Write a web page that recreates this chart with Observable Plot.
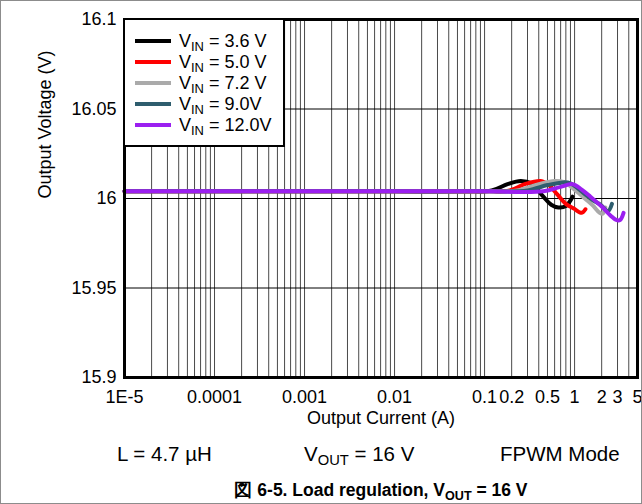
<!DOCTYPE html>
<html><head><meta charset="utf-8">
<script src="https://cdn.jsdelivr.net/npm/d3@7"></script>
<script src="https://cdn.jsdelivr.net/npm/@observablehq/plot@0.6"></script>
<style>
body{margin:0;background:#fff;font-family:"Liberation Sans",Arial,sans-serif;}
#page{position:relative;width:642px;height:504px;overflow:hidden;background:#fff;}
#chart{position:absolute;left:0;top:0;}
#border{position:absolute;left:0;top:0;width:642px;height:504px;box-sizing:border-box;border:1px solid #8c8c8c;pointer-events:none;}
#legend{position:absolute;left:123px;top:18px;width:162px;height:129px;box-sizing:border-box;border:2px solid #000;background:#fff;}
.row{position:absolute;left:0;height:20px;}
.sw{position:absolute;left:10px;width:36px;height:4px;}
.lt{position:absolute;left:54px;font-size:18px;line-height:20px;white-space:nowrap;color:#000;}
.sub{font-size:0.72em;position:relative;top:0.3em;}
.cond{position:absolute;top:442px;font-size:20.5px;white-space:nowrap;}
#caption{position:absolute;top:478px;left:0;width:762px;text-align:center;font-size:17.5px;font-weight:bold;white-space:nowrap;}
</style></head>
<body>
<div id="page">
<div id="chart"></div>
<div id="legend"></div>
<div class="cond" style="left:117px">L = 4.7 µH</div>
<div class="cond" style="left:304px">V<span class="sub">OUT</span> = 16 V</div>
<div class="cond" style="left:500px">FPWM Mode</div>
<div id="caption">図 6-5. Load regulation, V<span class="sub">OUT</span> = 16 V</div>
<div id="border"></div>
</div>
<script>
// Series labels and colours
const seriesNames = ["3.6 V", "5.0 V", "7.2 V", "9.0V", "12.0V"];
const seriesColors = ["#000000", "#ff0000", "#aaaaaa", "#2e5d6e", "#9b1ff0"];

// Output current (A) and output voltage (V)
const current36 = [1e-5, 1e-4, 1e-3, 0.01, 0.06, 0.12, 0.18, 0.25, 0.33, 0.45, 0.55, 0.66, 0.8, 0.95];
const voltage36 = [16.004, 16.004, 16.004, 16.004, 16.004, 16.0045, 16.008, 16.0098, 16.0085, 16.001, 15.9965, 15.995, 15.9958, 16.001];

const current50 = [1e-5, 1e-4, 1e-3, 0.01, 0.1, 0.19, 0.28, 0.42, 0.52, 0.65, 0.8, 0.98, 1.2, 1.32];
const voltage50 = [16.004, 16.004, 16.004, 16.004, 16.004, 16.0045, 16.008, 16.0098, 16.0075, 16.002, 15.997, 15.9944, 15.992, 15.994];

const current72 = [1e-5, 1e-4, 1e-3, 0.01, 0.1, 0.23, 0.4, 0.6, 0.75, 1.0, 1.3, 1.6, 1.9, 2.05, 2.2];
const voltage72 = [16.004, 16.004, 16.004, 16.004, 16.004, 16.0045, 16.008, 16.0098, 16.0093, 16.005, 16.0, 15.996, 15.992, 15.9915, 15.995];

const current90 = [1e-5, 1e-4, 1e-3, 0.01, 0.1, 0.3, 0.5, 0.75, 0.9, 1.26, 1.6, 1.95, 2.35, 2.6];
const voltage90 = [16.004, 16.004, 16.004, 16.004, 16.004, 16.0045, 16.0075, 16.009, 16.0085, 16.003, 15.999, 15.9965, 15.993, 15.997];

const current120 = [1e-5, 1e-4, 1e-3, 0.01, 0.1, 0.45, 0.7, 0.95, 1.2, 1.5, 2.0, 2.5, 2.9, 3.2, 3.5];
const voltage120 = [16.004, 16.004, 16.004, 16.004, 16.004, 16.004, 16.0065, 16.008, 16.005, 16.001, 15.9955, 15.9905, 15.988, 15.988, 15.992];

// Axis ticks and labels
const xTicks = [1e-5, 1e-4, 1e-3, 0.01, 0.1, 0.2, 0.5, 1, 2, 3, 5];
const xTickLabels = ["1E-5", "0.0001", "0.001", "0.01", "0.1", "0.2", "0.5", "1", "2", "3", "5"];
const yTicks = [15.9, 15.95, 16, 16.05, 16.1];
const yTickLabels = ["15.9", "15.95", "16", "16.05", "16.1"];
const yGrid = [15.95, 16, 16.05];

const currents = [current36, current50, current72, current90, current120];
const voltages = [voltage36, voltage50, voltage72, voltage90, voltage120];
const data = [];
seriesNames.forEach((s, i) => currents[i].forEach((c, j) => data.push({series: s, I: c, V: voltages[i][j]})));

// log grid lines 1..9 per decade
const xGrid = [];
for (let e = -5; e <= 0; e++) for (let m = 1; m <= 9; m++) { const v = m * Math.pow(10, e); if (v <= 5.0001) xGrid.push(v); }

const xTickData = xTicks.map((v, i) => ({v, label: xTickLabels[i]}));
const yTickData = yTicks.map((v, i) => ({v, label: yTickLabels[i]}));

const chart = Plot.plot({
  width: 642, height: 440,
  marginLeft: 124, marginRight: 5, marginTop: 19, marginBottom: 63,
  style: {fontFamily: '"Liberation Sans", Arial, sans-serif', fontSize: "18px", color: "#000", background: "transparent"},
  x: {type: "log", domain: [1e-5, 5], axis: null},
  y: {domain: [15.9, 16.1], axis: null},
  color: {domain: seriesNames, range: seriesColors},
  marks: [
    Plot.ruleX(xGrid, {stroke: "#4a4a4a", strokeWidth: 1}),
    Plot.ruleY(yGrid, {stroke: "#000", strokeWidth: 1}),
    ...seriesNames.map(s => Plot.line(data.filter(d => d.series === s), {x: "I", y: "V", stroke: "series", strokeWidth: 4, curve: "catmull-rom"})),
    Plot.text(xTickData, {x: "v", text: "label", frameAnchor: "bottom", dy: 25, fontSize: 18, fill: "#000"}),
    Plot.text(yTickData, {y: "v", text: "label", frameAnchor: "left", textAnchor: "end", dx: -8, fontSize: 18, fill: "#000"}),
    Plot.text(["Output Current (A)"], {frameAnchor: "bottom", dy: 46, fontSize: 18, fill: "#000"}),
    Plot.text(["Output Voltage (V)"], {frameAnchor: "left", dx: -79, rotate: -90, fontSize: 18, fill: "#000"}),
    Plot.frame({stroke: "#000", strokeWidth: 3})
  ]
});
document.getElementById("chart").appendChild(chart);

// legend
const lg = document.getElementById("legend");
seriesNames.forEach((s, i) => {
  const row = document.createElement("div");
  row.className = "row";
  row.style.top = (11 + i * 21) + "px";
  row.style.width = "100%";
  row.innerHTML = `<div class="sw" style="top:8px;background:${seriesColors[i]}"></div><div class="lt">V<span class="sub">IN</span> = ${s}</div>`;
  lg.appendChild(row);
});
</script>
</body></html>
